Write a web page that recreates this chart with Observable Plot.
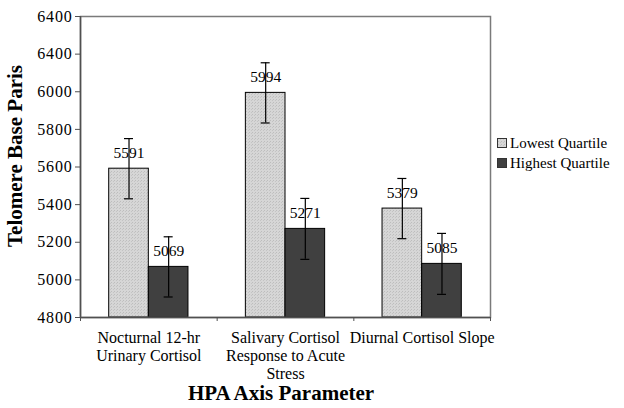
<!DOCTYPE html>
<html>
<head>
<meta charset="utf-8">
<script src="https://cdn.jsdelivr.net/npm/d3@7"></script>
<script src="https://cdn.jsdelivr.net/npm/@observablehq/plot@0.6"></script>
<style>
  html, body { margin: 0; padding: 0; background: #fff; }
  #chart { width: 624px; height: 408px; position: relative; }
</style>
</head>
<body>
<div id="chart"></div>
<script>
// ---- Data ----
const categories = [
  "Nocturnal 12-hr\nUrinary Cortisol",
  "Salivary Cortisol\nResponse to Acute\nStress",
  "Diurnal Cortisol Slope"
];
const series = ["Lowest Quartile", "Highest Quartile"];
const lowestValues = [5591, 5994, 5379];
const highestValues = [5069, 5271, 5085];
const lowestErrors = [160, 160, 160];
const highestErrors = [160, 162, 162];
const yTicks = [4800, 5000, 5200, 5400, 5600, 5800, 6000, 6200, 6400];
const yTickLabels = ["4800", "5000", "5200", "5400", "5600", "5800", "6000", "6400", "6400"];
const yTitle = "Telomere Base Paris";
const xTitle = "HPA Axis Parameter";

// ---- Build table ----
const barWidth = 0.29;
const rows = [];
categories.forEach((cat, i) => {
  [lowestValues, highestValues].forEach((vals, si) => {
    const err = (si === 0 ? lowestErrors : highestErrors)[i];
    const x1 = i + 0.5 + (si - 1) * barWidth;
    rows.push({cat, i, series: series[si], value: vals[i], err, x1, x2: x1 + barWidth, cx: x1 + barWidth / 2});
  });
});
const capHalf = 0.033;
const font = "'Liberation Serif', 'Times New Roman', serif";

const plot = Plot.plot({
  width: 624,
  height: 408,
  marginLeft: 80,
  marginRight: 134,
  marginTop: 16,
  marginBottom: 91,
  style: {fontFamily: font, fontSize: "16px", color: "black", background: "white"},
  x: {domain: [0, 3], axis: null},
  y: {domain: [4800, 6400], axis: null},
  color: {domain: series, range: ["url(#stipple)", "#404040"]},
  marks: [
    Plot.rectY(rows, {x1: "x1", x2: "x2", y1: 4800, y2: "value", fill: "series", stroke: "black", strokeWidth: 1}),
    Plot.ruleX(rows, {x: "cx", y1: d => d.value - d.err, y2: d => d.value + d.err, stroke: "black", strokeWidth: 1.2}),
    Plot.ruleY(rows, {y: d => d.value + d.err, x1: d => d.cx - capHalf, x2: d => d.cx + capHalf, stroke: "black", strokeWidth: 1.2}),
    Plot.ruleY(rows, {y: d => d.value - d.err, x1: d => d.cx - capHalf, x2: d => d.cx + capHalf, stroke: "black", strokeWidth: 1.2}),
    Plot.text(rows, {x: "cx", y: "value", text: d => String(d.value), dy: -16, fontSize: 15.5, fill: "black"}),
    Plot.frame({stroke: "#7a7a7a", strokeWidth: 1.5}),
    Plot.ruleX([0], {stroke: "#505050", strokeWidth: 1.5}),
    Plot.ruleY([4800], {stroke: "#505050", strokeWidth: 1.5}),
    Plot.axisY({ticks: yTicks, tickFormat: d => yTickLabels[yTicks.indexOf(d)], tickSize: 5, tickPadding: 3, fontSize: 16, label: null, stroke: "#505050"}),
    Plot.axisX({ticks: [0, 1, 2, 3], tickSize: 4, tickFormat: () => "", label: null, stroke: "#505050"}),
    Plot.axisX({ticks: [0.5, 1.5, 2.5], tickSize: 0, tickPadding: 12, tickFormat: d => categories[Math.floor(d)], lineHeight: 1.15, fontSize: 16, label: null})
  ]
});

document.getElementById("chart").appendChild(plot);

// ---- Pattern, titles, legend ----
const svg = d3.select(plot);
const defs = svg.insert("defs", ":first-child");
const pat = defs.append("pattern").attr("id", "stipple").attr("patternUnits", "userSpaceOnUse")
  .attr("width", 3).attr("height", 3);
pat.append("rect").attr("width", 3).attr("height", 3).attr("fill", "#d6d6d6");
pat.append("rect").attr("x", 0).attr("y", 0).attr("width", 1).attr("height", 1).attr("fill", "#bdbdbd");
pat.append("rect").attr("x", 2).attr("y", 1).attr("width", 1).attr("height", 1).attr("fill", "#c4c4c4");

svg.selectAll('[aria-label="y-axis tick label"] text').style("letter-spacing", "0.8px");

svg.append("text")
  .attr("transform", "translate(15,156) rotate(-90)")
  .attr("text-anchor", "middle").attr("dominant-baseline", "central")
  .style("font-family", font).style("font-weight", "bold").style("font-size", "21px")
  .text(yTitle);
svg.append("text")
  .attr("x", 281).attr("y", 393)
  .attr("text-anchor", "middle").attr("dominant-baseline", "central")
  .style("font-family", font).style("font-weight", "bold").style("font-size", "21px")
  .text(xTitle);

const legendFills = ["url(#stipple)", "#404040"];
series.forEach((s, k) => {
  const cy = 143 + k * 20;
  svg.append("rect").attr("x", 497.5).attr("y", cy - 4.5).attr("width", 9).attr("height", 9)
    .attr("fill", legendFills[k]).attr("stroke", "#333").attr("stroke-width", 1);
  svg.append("text").attr("x", 510).attr("y", cy)
    .attr("text-anchor", "start").attr("dominant-baseline", "central")
    .style("font-family", font).style("font-size", "15px").text(s);
});
</script>
</body>
</html>
